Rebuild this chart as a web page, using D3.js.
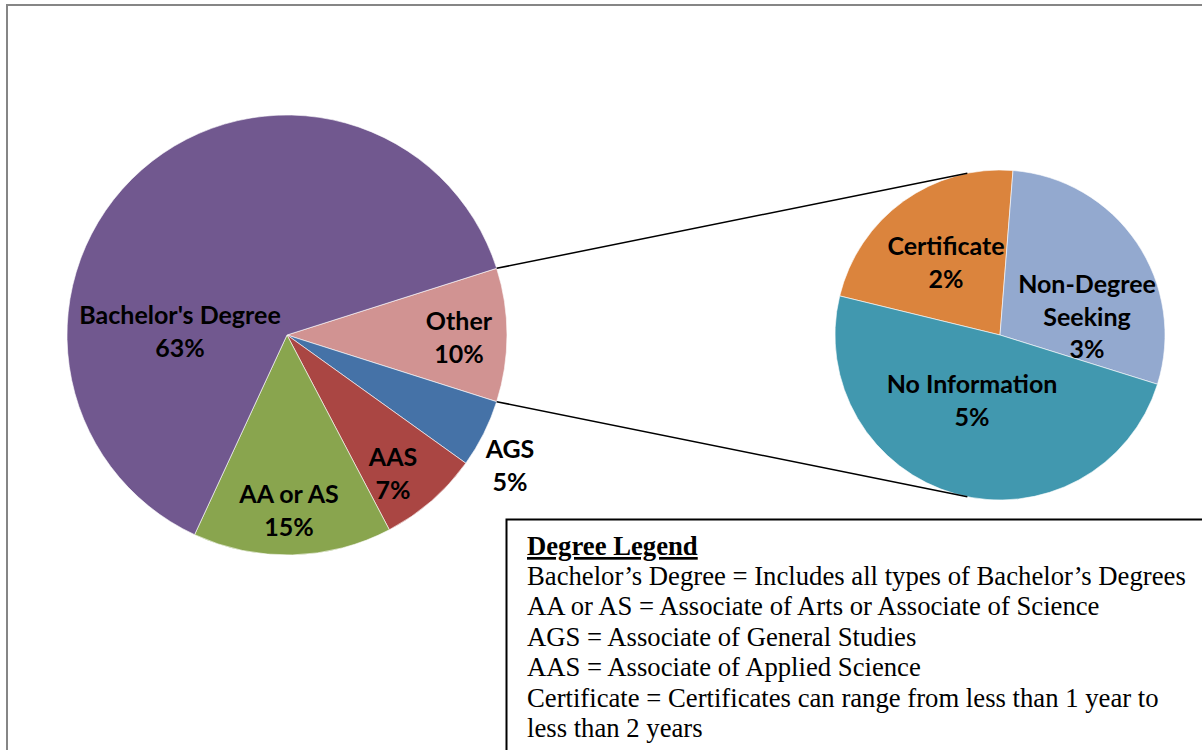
<!DOCTYPE html>
<html>
<head>
<meta charset="utf-8">
<script src="https://cdn.jsdelivr.net/npm/d3@7"></script>
<style>
  body { margin: 0; background: #fff; }
  .lbl { font-family: Lato, "Noto Sans", sans-serif; font-weight: bold; fill: #000; }
  .leg { font-family: "Liberation Serif", "Times New Roman", serif; fill: #000; }
</style>
</head>
<body>
<script>
// main pie slices (percent of all students)
var mainCats = ["Bachelor's Degree", "AA or AS", "AAS", "AGS"];
var mainVals = [63.2, 14.6, 7.4, 5.0];
var mainColors = ["#71588F", "#89A54E", "#AA4643", "#4572A7"];
var otherName = "Other";
var otherColor = "#D19392";

// the "Other" slice broken out in the second pie
var subCats = ["Certificate", "Non-Degree Seeking", "No Information"];
var subVals = [2.2, 2.8, 4.8];
var subColors = ["#DB843D", "#93A9CF", "#4198AF"];

var legendTitle = "Degree Legend";
var legendLines = [
  "Bachelor\u2019s Degree = Includes all types of Bachelor\u2019s Degrees",
  "AA or AS = Associate of Arts or Associate of Science",
  "AGS = Associate of General Studies",
  "AAS = Associate of Applied Science",
  "Certificate = Certificates can range from less than 1 year to",
  "less than 2 years"
];

// label placement, offset of first baseline from the pie centre
var labelPos = {
  "Bachelor's Degree": [-107, -11, ["Bachelor's Degree"]],
  "AA or AS": [2, 168, ["AA or AS"]],
  "AAS": [106, 131, ["AAS"]],
  "AGS": [223, 123, ["AGS"]],
  "Other": [172, -5, ["Other"]],
  "Certificate": [-54, -80, ["Certificate"]],
  "Non-Degree Seeking": [87, -42, ["Non-Degree", "Seeking"]],
  "No Information": [-28, 58, ["No Information"]]
};

var W = 1202, H = 750;
var svg = d3.select("body").append("svg").attr("width", W).attr("height", H);

// chart area border (only top/left visible)
svg.append("path")
  .attr("d", "M7," + (H + 5) + "V5H" + (W + 5))
  .attr("fill", "none").attr("stroke", "#868686").attr("stroke-width", 2);

var otherVal = d3.sum(subVals);
var mainData = [{name: otherName, value: otherVal, color: otherColor}];
for (var i = mainCats.length - 1; i >= 0; i--) {
  mainData.push({name: mainCats[i], value: mainVals[i], color: mainColors[i]});
}
var total = d3.sum(mainData, function(d) { return d.value; });

var c1 = [287, 335], r1 = 220;
var c2 = [1000, 335], r2 = 165;

var otherSpan = otherVal / total * 2 * Math.PI;
var pie1 = d3.pie().sort(null).value(function(d) { return d.value; })
  .startAngle(Math.PI / 2 - otherSpan / 2)
  .endAngle(Math.PI / 2 - otherSpan / 2 + 2 * Math.PI);
var arc1 = d3.arc().innerRadius(0).outerRadius(r1);

var g1 = svg.append("g").attr("transform", "translate(" + c1 + ")");
var arcs1 = pie1(mainData);
g1.selectAll("path").data(arcs1).enter().append("path")
  .attr("d", arc1)
  .attr("fill", function(d) { return d.data.color; })
  .attr("stroke", "#fff").attr("stroke-width", 0.6);

var subData = subCats.map(function(c, i) { return {name: c, value: subVals[i], color: subColors[i]}; });
var start2 = -76.3 * Math.PI / 180;
var pie2 = d3.pie().sort(null).value(function(d) { return d.value; })
  .startAngle(start2).endAngle(start2 + 2 * Math.PI);
var arc2 = d3.arc().innerRadius(0).outerRadius(r2);
var g2 = svg.append("g").attr("transform", "translate(" + c2 + ")");
var arcs2 = pie2(subData);
g2.selectAll("path").data(arcs2).enter().append("path")
  .attr("d", arc2)
  .attr("fill", function(d) { return d.data.color; })
  .attr("stroke", "#fff").attr("stroke-width", 0.6);

// connector lines: from edges of Other slice, tangent to the second pie
function tangent(p, sign) {
  var dx = p[0] - c2[0], dy = p[1] - c2[1];
  var dist = Math.sqrt(dx * dx + dy * dy);
  var a = Math.atan2(dy, dx) + sign * Math.acos(r2 / dist);
  return [c2[0] + r2 * Math.cos(a), c2[1] + r2 * Math.sin(a)];
}
var oth = arcs1[0];
[[oth.startAngle, 1], [oth.endAngle, -1]].forEach(function(e) {
  var p = [c1[0] + r1 * Math.sin(e[0]), c1[1] - r1 * Math.cos(e[0])];
  var t = tangent(p, e[1]);
  svg.append("line")
    .attr("x1", p[0]).attr("y1", p[1]).attr("x2", t[0]).attr("y2", t[1])
    .attr("stroke", "#000").attr("stroke-width", 1.5);
});

// data labels
function addLabels(g, arcs) {
  arcs.forEach(function(d) {
    var lp = labelPos[d.data.name];
    var lines = lp[2].concat([Math.round(d.data.value / total * 100) + "%"]);
    var t = g.append("text").attr("class", "lbl")
      .attr("text-anchor", "middle").attr("font-size", 25);
    lines.forEach(function(s, k) {
      t.append("tspan").attr("x", lp[0]).attr("y", lp[1] + k * 32.5).text(s);
    });
  });
}
addLabels(g1, arcs1);
addLabels(g2, arcs2);

// legend box
svg.append("rect")
  .attr("x", 506.5).attr("y", 519.5).attr("width", 720).attr("height", 260)
  .attr("fill", "#fff").attr("stroke", "#000").attr("stroke-width", 2);
svg.append("text").attr("class", "leg")
  .attr("x", 527).attr("y", 555).attr("font-size", 26.7).attr("font-weight", "bold")
  .attr("text-decoration", "underline")
  .text(legendTitle);
svg.selectAll("text.legline").data(legendLines).enter().append("text")
  .attr("class", "leg legline")
  .attr("x", 527).attr("y", function(d, i) { return 584.5 + i * 30.5; })
  .attr("font-size", 26.7)
  .text(function(d) { return d; });
</script>
</body>
</html>
